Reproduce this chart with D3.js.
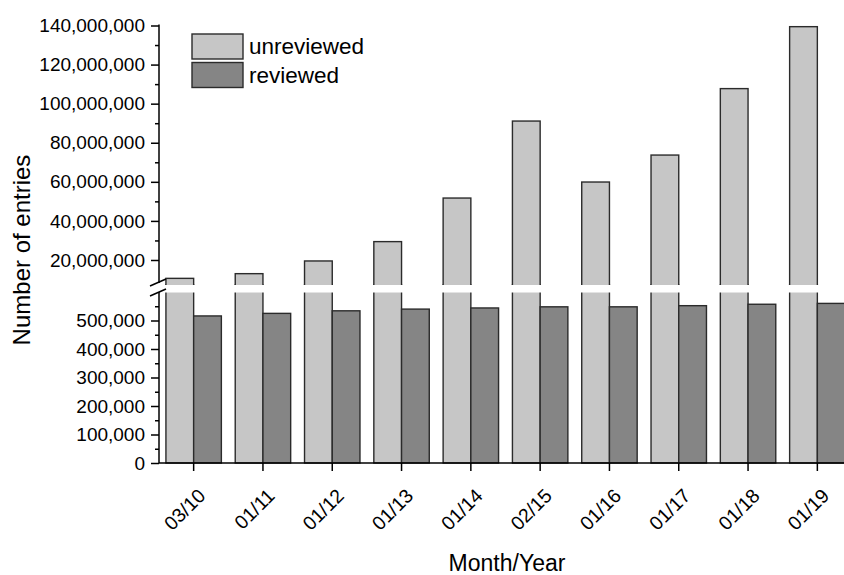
<!DOCTYPE html>
<html>
<head>
<meta charset="utf-8">
<script src="https://cdn.jsdelivr.net/npm/d3@7"></script>
<style>
  body { margin: 0; background: #fff; }
  svg { display: block; font-family: "Liberation Sans", Arial, sans-serif; }
</style>
</head>
<body>
<div id="chart"></div>
<script>
const months = ['03/10', '01/11', '01/12', '01/13', '01/14', '02/15', '01/16', '01/17', '01/18', '01/19'];
const unreviewed = [10600000, 13000000, 19500000, 29400000, 51700000, 91100000, 59900000, 73700000, 107700000, 139400000];
const reviewed = [516000, 525000, 534000, 540000, 544000, 548000, 548000, 552000, 557000, 560000];
const upperTicks = [20000000, 40000000, 60000000, 80000000, 100000000, 120000000, 140000000];
const upperMinor = [30000000, 50000000, 70000000, 90000000, 110000000, 130000000];
const lowerTicks = [0, 100000, 200000, 300000, 400000, 500000];
const lowerMinor = [50000, 150000, 250000, 350000, 450000, 550000];
const seriesNames = ['unreviewed', 'reviewed'];
const colors = ['#c6c6c6', '#858585'];

const width = 844, height = 575;
const axisX = 159, baseY = 463;
const gapTop = 285, gapBottom = 292.5;

const svg = d3.select('#chart')
  .append('svg')
  .attr('width', width)
  .attr('height', height);

const x0 = d3.scaleBand()
  .domain(months)
  .range([axisX, 852])
  .paddingInner(0.2)
  .paddingOuter(0.1);

const x1 = d3.scaleBand()
  .domain(seriesNames)
  .range([0, x0.bandwidth()]);

// two y scales for the broken axis
const yUpper = d3.scaleLinear()
  .domain([7200000, 140000000])
  .range([gapTop, 25.5]);

const yLower = d3.scaleLinear()
  .domain([0, 600000])
  .range([baseY, 292]);

const stroke = '#2b2b2b';

// unreviewed bars: lower part (full height of lower panel) and upper part
const bars = svg.append('g')
  .attr('stroke', stroke)
  .attr('stroke-width', 1.4);

bars.selectAll('rect.un-low')
  .data(unreviewed)
  .join('rect')
  .attr('class', 'un-low')
  .attr('x', (_, i) => x0(months[i]) + x1('unreviewed'))
  .attr('width', x1.bandwidth())
  .attr('y', gapTop)
  .attr('height', baseY - gapTop)
  .attr('fill', colors[0]);

bars.selectAll('rect.un-up')
  .data(unreviewed)
  .join('rect')
  .attr('class', 'un-up')
  .attr('x', (_, i) => x0(months[i]) + x1('unreviewed'))
  .attr('width', x1.bandwidth())
  .attr('y', d => yUpper(d))
  .attr('height', d => gapTop + 4 - yUpper(d))
  .attr('fill', colors[0]);

bars.selectAll('rect.rev')
  .data(reviewed)
  .join('rect')
  .attr('class', 'rev')
  .attr('x', (_, i) => x0(months[i]) + x1('reviewed'))
  .attr('width', x1.bandwidth())
  .attr('y', d => yLower(d))
  .attr('height', d => baseY - yLower(d))
  .attr('fill', colors[1]);

// white gap of the axis break
svg.append('rect')
  .attr('x', axisX + 1)
  .attr('y', gapTop)
  .attr('width', width)
  .attr('height', gapBottom - gapTop)
  .attr('fill', '#fff');

// y axes
const fmt = d3.format(',');

const styleAxis = g => {
  g.select('.domain').remove();
  g.selectAll('line').attr('stroke', '#000').attr('stroke-width', 1.5);
  g.selectAll('text').attr('font-size', 19).attr('fill', '#000');
};

svg.append('g')
  .attr('transform', `translate(${axisX},0)`)
  .call(d3.axisLeft(yUpper).tickValues(upperTicks).tickFormat(fmt).tickSize(8).tickPadding(6))
  .call(styleAxis);

svg.append('g')
  .attr('transform', `translate(${axisX},0)`)
  .call(d3.axisLeft(yUpper).tickValues(upperMinor).tickFormat('').tickSize(4))
  .call(styleAxis);

svg.append('g')
  .attr('transform', `translate(${axisX},0)`)
  .call(d3.axisLeft(yLower).tickValues(lowerTicks).tickFormat(fmt).tickSize(8).tickPadding(6))
  .call(styleAxis);

svg.append('g')
  .attr('transform', `translate(${axisX},0)`)
  .call(d3.axisLeft(yLower).tickValues(lowerMinor).tickFormat('').tickSize(4))
  .call(styleAxis);

// axis lines (split at the break)
svg.append('line')
  .attr('x1', axisX).attr('x2', axisX)
  .attr('y1', 24.5).attr('y2', 283)
  .attr('stroke', '#000').attr('stroke-width', 1.5);

svg.append('line')
  .attr('x1', axisX).attr('x2', axisX)
  .attr('y1', 292).attr('y2', baseY)
  .attr('stroke', '#000').attr('stroke-width', 1.5);

// break marks
svg.append('g')
  .attr('stroke', '#000')
  .attr('stroke-width', 1.5)
  .selectAll('line')
  .data([0, 10])
  .join('line')
  .attr('x1', 150).attr('x2', 166)
  .attr('y1', d => 286 + d).attr('y2', d => 279 + d);

// x axis
const xAxis = svg.append('g')
  .attr('transform', `translate(0,${baseY})`)
  .call(d3.axisBottom(x0).tickSize(8).tickSizeOuter(0));

xAxis.select('.domain')
  .attr('stroke', '#000')
  .attr('stroke-width', 1.5)
  .attr('d', `M${axisX},0H${width + 20}`);

xAxis.selectAll('line').attr('stroke', '#000').attr('stroke-width', 1.5);

xAxis.selectAll('text')
  .attr('font-size', 19.5)
  .attr('fill', '#000')
  .attr('text-anchor', 'end')
  .attr('x', 0)
  .attr('y', 0)
  .attr('dy', 0)
  .attr('transform', 'translate(13,34) rotate(-45)');

// axis titles
svg.append('text')
  .attr('x', 507)
  .attr('y', 571)
  .attr('text-anchor', 'middle')
  .attr('font-size', 23)
  .text('Month/Year');

svg.append('text')
  .attr('transform', 'translate(30,250) rotate(-90)')
  .attr('text-anchor', 'middle')
  .attr('font-size', 24)
  .text('Number of entries');

// legend
const legend = svg.append('g')
  .selectAll('g')
  .data(seriesNames)
  .join('g')
  .attr('transform', (_, i) => `translate(192,${34 + i * 28.5})`);

legend.append('rect')
  .attr('width', 51)
  .attr('height', 25)
  .attr('fill', (_, i) => colors[i])
  .attr('stroke', stroke)
  .attr('stroke-width', 1.4);

legend.append('text')
  .attr('x', 57)
  .attr('y', 20)
  .attr('font-size', 22.5)
  .text(d => d);
</script>
</body>
</html>
